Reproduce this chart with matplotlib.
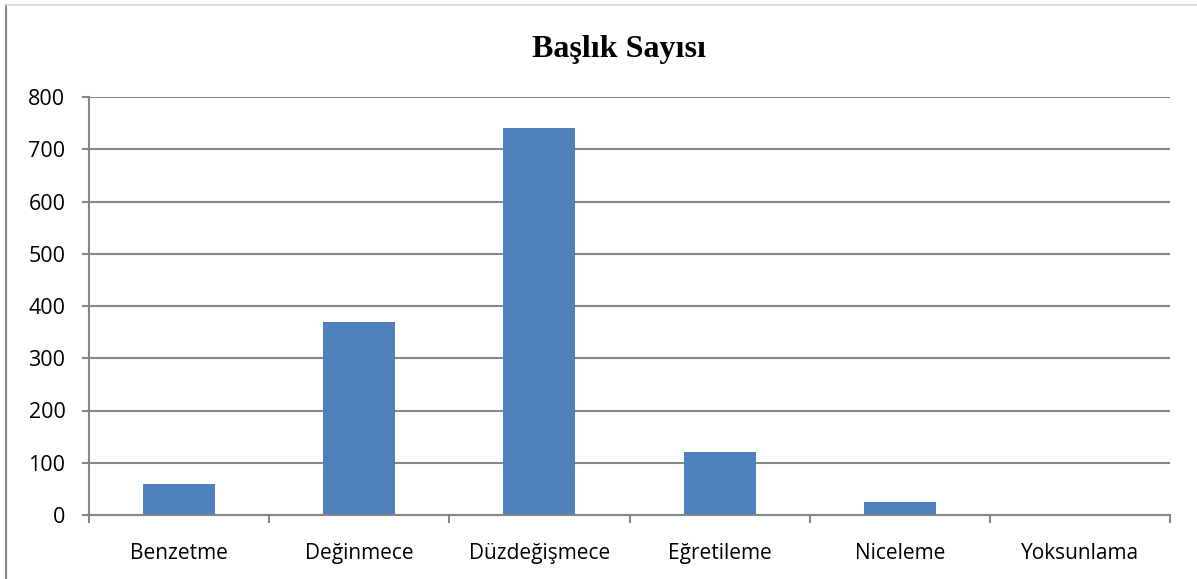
import matplotlib.pyplot as plt
import numpy as np
from matplotlib.lines import Line2D

categories = ['Benzetme', 'Değinmece', 'Düzdeğişmece', 'Eğretileme', 'Niceleme', 'Yoksunlama']
counts = [60, 370, 740, 121, 25, 0]
yticks = [0, 100, 200, 300, 400, 500, 600, 700, 800]

grid_col = '#868686'
bar_col = '#4f81bd'

fig = plt.figure(figsize=(11.97, 5.79), dpi=100)
ax = fig.add_axes([89 / 1197, 1 - 515 / 579, (1170 - 89) / 1197, (515 - 97) / 579])

x = np.arange(len(categories))
ax.bar(x, counts, width=0.4, color=bar_col, zorder=3)

ax.set_xlim(-0.5, len(categories) - 0.5)
ax.set_ylim(0, 800)
ax.set_yticks(yticks)
ax.set_yticklabels([str(v) for v in yticks], fontsize=15.5, family='Open Sans')
ax.yaxis.grid(True, color=grid_col, linewidth=1.5, zorder=0)

ax.set_xticks(np.arange(len(categories) + 1) - 0.5)
ax.set_xticklabels([])
ax.set_xticks(x, minor=True)
ax.set_xticklabels(categories, minor=True, fontsize=15, family='Open Sans')
ax.tick_params(axis='x', which='minor', length=0, pad=20)
ax.tick_params(axis='x', which='major', length=6, width=1.5, color=grid_col, direction='out')
ax.tick_params(axis='y', length=5, width=1.5, color=grid_col, direction='out', pad=12)

for s in ['top', 'right']:
    ax.spines[s].set_visible(False)
for s in ['left', 'bottom']:
    ax.spines[s].set_color(grid_col)
    ax.spines[s].set_linewidth(1.5)
    ax.spines[s].set_zorder(4)

fig.text(619 / 1197, 1 - 49 / 579, 'Başlık Sayısı', ha='center', va='center',
         fontsize=23, fontweight='bold', family='Liberation Serif')

# outer chart frame (left and top edge visible)
fig.add_artist(Line2D([6 / 1197, 6 / 1197], [0, 1 - 5 / 579], color=grid_col, linewidth=1.5,
                      transform=fig.transFigure))
fig.add_artist(Line2D([6 / 1197, 1], [1 - 5 / 579, 1 - 5 / 579], color='#d9d9d9', linewidth=1.2,
                      transform=fig.transFigure))

fig.savefig('out.png', dpi=100)
